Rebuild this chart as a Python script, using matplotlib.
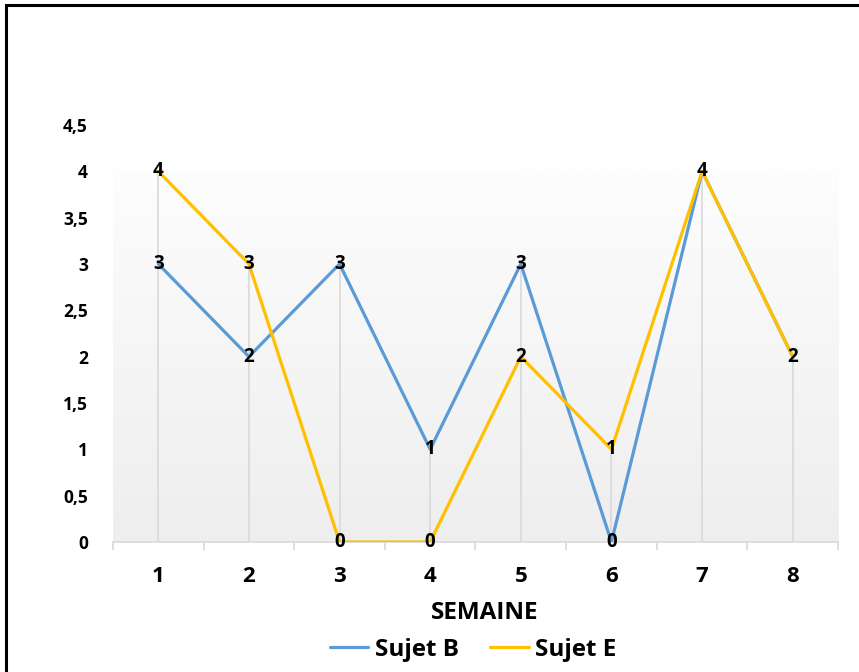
import numpy as np
import matplotlib.pyplot as plt
from matplotlib.patches import Rectangle
from matplotlib.colors import LinearSegmentedColormap

weeks = [1, 2, 3, 4, 5, 6, 7, 8]
sujet_b = [3, 2, 3, 1, 3, 0, 4, 2]
sujet_e = [4, 3, 0, 0, 2, 1, 4, 2]
y_ticks = [0, 0.5, 1, 1.5, 2, 2.5, 3, 3.5, 4, 4.5]
y_labels = ["0", "0,5", "1", "1,5", "2", "2,5", "3", "3,5", "4", "4,5"]

plt.rcParams['font.family'] = ['Open Sans', 'DejaVu Sans']
plt.rcParams['font.weight'] = 'bold'

fig = plt.figure(figsize=(8.59, 6.72), dpi=100)
ax = fig.add_axes([0.1315, 0.1935, 0.8441, 0.6205])

# outer frame
fig.patches.append(Rectangle((6 / 859, -0.05), 1.2, 1 - 5 / 672 + 0.05,
                             transform=fig.transFigure, fill=False,
                             edgecolor='black', linewidth=2.2))

# plot-area gradient (near white at top to light gray at bottom)
grad = np.linspace(0, 1, 256).reshape(-1, 1)
ax.imshow(grad, extent=[0.5, 8.5, 0, 4.02], aspect='auto', origin='upper',
          cmap=LinearSegmentedColormap.from_list('bg', ['#fdfdfd', '#eeeeee']),
          zorder=0)

ax.set_xlim(0.5, 8.5)
ax.set_ylim(0, 4.5)

# drop lines from the highest value down to the axis
for x, b, e in zip(weeks, sujet_b, sujet_e):
    ax.vlines(x, 0, max(b, e), color='#d9d9d9', linewidth=1.2, zorder=1)

ax.plot(weeks, sujet_b, color='#5B9BD5', linewidth=2.3, label='Sujet B',
        zorder=3, solid_capstyle='round')
ax.plot(weeks, sujet_e, color='#FFC000', linewidth=2.3, label='Sujet E',
        zorder=4, solid_capstyle='round')

for x, b, e in zip(weeks, sujet_b, sujet_e):
    ax.text(x, b, str(b), ha='center', va='center', fontsize=13.5,
            fontweight='bold', color='black', zorder=5)
    if e != b:
        ax.text(x, e, str(e), ha='center', va='center', fontsize=13.5,
                fontweight='bold', color='black', zorder=5)

for s in ['top', 'right', 'left']:
    ax.spines[s].set_visible(False)
ax.spines['bottom'].set_color('#d9d9d9')
ax.spines['bottom'].set_linewidth(1.2)

ax.set_yticks(y_ticks)
ax.set_yticklabels(y_labels, fontsize=12.5, fontweight='bold')
ax.tick_params(axis='y', length=0, pad=18)

ax.set_xticks(weeks)
ax.set_xticklabels([str(w) for w in weeks], fontsize=16, fontweight='bold')
ax.set_xticks(np.arange(0.5, 8.6, 1), minor=True)
ax.tick_params(axis='x', which='major', length=0, pad=17)
ax.tick_params(axis='x', which='minor', length=6, color='#d9d9d9', width=1.2)

ax.set_xlabel('SEMAINE', fontsize=17.5, fontweight='bold', va='center')
ax.xaxis.set_label_coords(0.513, -0.170)

fig.legend(loc='center', bbox_to_anchor=(473 / 859, 1 - 650 / 672), ncol=2,
           frameon=False, handlelength=1.6, handletextpad=0.25,
           columnspacing=1.3, prop={'weight': 'bold', 'size': 17.5})

fig.savefig('out.png', dpi=100)
